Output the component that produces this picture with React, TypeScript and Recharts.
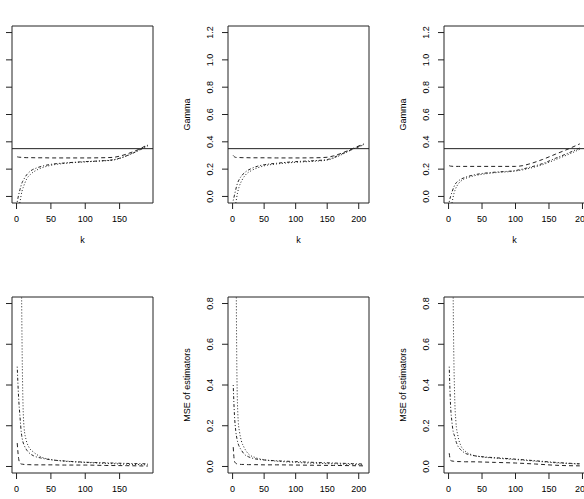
import { LineChart, Line, XAxis, YAxis, ReferenceLine, ReferenceArea } from "recharts";

const FONT = '"Liberation Sans", Arial, Helvetica, sans-serif';
const INK = "#222";

// true value of gamma (horizontal reference line in the top row)
const TRUE_GAMMA = 0.35;

// top row: Gamma estimates against k
const kTop1 = [1, 3, 5, 8, 10, 15, 20, 30, 40, 50, 70, 100, 120, 140, 150, 160, 170, 180, 191];
const dashedTop1 = [0.29, 0.288, 0.287, 0.286, 0.285, 0.284, 0.284, 0.283, 0.283, 0.282, 0.282, 0.282, 0.283, 0.286, 0.295, 0.31, 0.328, 0.35, 0.38];
const dotdashTop1 = [-0.04, 0.01, 0.05, 0.1, 0.12, 0.16, 0.185, 0.21, 0.225, 0.235, 0.245, 0.255, 0.26, 0.268, 0.28, 0.298, 0.318, 0.342, 0.37];
const dottedTop1 = [-0.2, -0.09, -0.04, 0.04, 0.07, 0.13, 0.16, 0.195, 0.215, 0.228, 0.242, 0.253, 0.259, 0.266, 0.278, 0.296, 0.32, 0.345, 0.375];

const kTop2 = [1, 3, 5, 8, 10, 15, 20, 30, 40, 50, 70, 100, 130, 150, 160, 170, 180, 190, 208];
const dashedTop2 = [0.3, 0.29, 0.286, 0.285, 0.285, 0.284, 0.284, 0.283, 0.283, 0.283, 0.282, 0.282, 0.283, 0.287, 0.297, 0.312, 0.33, 0.35, 0.385];
const dotdashTop2 = [-0.03, 0.01, 0.05, 0.1, 0.12, 0.155, 0.178, 0.205, 0.222, 0.232, 0.243, 0.255, 0.262, 0.27, 0.285, 0.305, 0.325, 0.345, 0.378];
const dottedTop2 = [-0.2, -0.1, -0.05, 0.03, 0.065, 0.12, 0.155, 0.19, 0.21, 0.224, 0.238, 0.25, 0.258, 0.266, 0.28, 0.3, 0.322, 0.345, 0.38];

const kTop3 = [1, 3, 5, 8, 10, 15, 20, 30, 40, 50, 70, 100, 110, 120, 140, 160, 180, 196];
const dashedTop3 = [0.225, 0.222, 0.221, 0.22, 0.22, 0.22, 0.22, 0.22, 0.22, 0.22, 0.22, 0.22, 0.225, 0.237, 0.27, 0.31, 0.35, 0.385];
const dotdashTop3 = [-0.04, 0.0, 0.03, 0.07, 0.09, 0.115, 0.13, 0.148, 0.16, 0.168, 0.178, 0.19, 0.2, 0.212, 0.24, 0.28, 0.32, 0.355];
const dottedTop3 = [-0.2, -0.1, -0.05, 0.02, 0.05, 0.095, 0.118, 0.14, 0.153, 0.162, 0.174, 0.186, 0.194, 0.205, 0.232, 0.27, 0.31, 0.345];

// bottom row: MSE of estimators against k
const kBot1 = [1, 3, 5, 7, 9, 11, 14, 18, 25, 35, 50, 70, 100, 130, 160, 191];
const dashedBot1 = [0.115, 0.04, 0.017, 0.012, 0.011, 0.01, 0.009, 0.009, 0.008, 0.008, 0.008, 0.007, 0.007, 0.005, 0.004, 0.002];
const dotdashBot1 = [0.49, 0.34, 0.245, 0.165, 0.125, 0.105, 0.085, 0.068, 0.052, 0.042, 0.033, 0.027, 0.021, 0.018, 0.015, 0.013];
const dottedBot1 = [6, 4, 2.2, 1.0, 0.37, 0.19, 0.13, 0.095, 0.07, 0.048, 0.034, 0.026, 0.02, 0.015, 0.011, 0.008];

const kBot2 = [1, 3, 5, 7, 9, 11, 14, 18, 25, 35, 50, 70, 100, 130, 160, 190, 208];
const dashedBot2 = [0.095, 0.025, 0.016, 0.013, 0.012, 0.011, 0.01, 0.01, 0.009, 0.009, 0.008, 0.008, 0.007, 0.006, 0.005, 0.004, 0.003];
const dotdashBot2 = [0.4, 0.25, 0.175, 0.135, 0.11, 0.095, 0.08, 0.062, 0.048, 0.038, 0.032, 0.028, 0.024, 0.02, 0.017, 0.014, 0.012];
const dottedBot2 = [6, 4, 1.5, 0.42, 0.22, 0.17, 0.125, 0.095, 0.062, 0.045, 0.033, 0.026, 0.02, 0.016, 0.013, 0.01, 0.008];

const kBot3 = [1, 3, 5, 7, 9, 11, 14, 18, 25, 35, 50, 70, 100, 130, 160, 196];
const dashedBot3 = [0.065, 0.03, 0.027, 0.026, 0.025, 0.025, 0.024, 0.024, 0.023, 0.023, 0.022, 0.02, 0.017, 0.012, 0.006, 0.003];
const dotdashBot3 = [0.49, 0.3, 0.22, 0.17, 0.15, 0.125, 0.1, 0.083, 0.065, 0.055, 0.048, 0.043, 0.036, 0.028, 0.02, 0.013];
const dottedBot3 = [6, 4, 2.0, 0.8, 0.36, 0.22, 0.15, 0.105, 0.075, 0.057, 0.047, 0.041, 0.034, 0.026, 0.018, 0.012];

const topYTicks = [0, 0.2, 0.4, 0.6, 0.8, 1.0, 1.2];
const botYTicks = [0, 0.2, 0.4, 0.6, 0.8];
const xTicks150 = [0, 50, 100, 150];
const xTicks200 = [0, 50, 100, 150, 200];

// R style axis range: data range padded by 4% each side
const pad = (lo: number, hi: number): [number, number] => {
  const d = (hi - lo) * 0.04;
  return [lo - d, hi + d];
};

const YTick = (props: any) => {
  const { x, y, payload } = props;
  return (
    <text
      x={x}
      y={y}
      transform={`rotate(-90, ${x}, ${y})`}
      textAnchor="middle"
      dominantBaseline="central"
      fontSize={9}
      fontFamily={FONT}
      fill="#000"
    >
      {Number(payload.value).toFixed(1)}
    </text>
  );
};

const YAXIS_W = 60;
const TOP_M = 10;
const RIGHT_M = 10;
const XAXIS_H = 45;
const PLOT_W = 141;

type PanelProps = {
  boxLeft: number;
  boxTop: number;
  plotH: number;
  k: number[];
  dashed: number[];
  dotdash: number[];
  dotted: number[];
  xDomain: [number, number];
  xTicks: number[];
  yDomain: [number, number];
  yTicks: number[];
  yLabel: string;
  hline?: number;
};

function Panel(p: PanelProps) {
  const data = p.k.map((k, i) => ({
    k,
    dashed: p.dashed[i],
    dotdash: p.dotdash[i],
    dotted: p.dotted[i],
  }));
  const textStyle = { fontSize: 9, fontFamily: FONT, fill: "#000" };

  return (
    <div style={{ position: "absolute", left: p.boxLeft - YAXIS_W, top: p.boxTop - TOP_M }}>
      <LineChart
        width={YAXIS_W + PLOT_W + RIGHT_M}
        height={TOP_M + p.plotH + XAXIS_H}
        data={data}
        margin={{ top: TOP_M, right: RIGHT_M, left: 0, bottom: 0 }}
      >
        <XAxis
          type="number"
          dataKey="k"
          domain={p.xDomain}
          ticks={p.xTicks}
          interval={0}
          allowDataOverflow
          height={XAXIS_H}
          tickSize={6}
          tickMargin={7}
          axisLine={false}
          stroke={INK}
          tick={textStyle}
          label={{ value: "k", position: "insideBottom", offset: 5.4, style: textStyle }}
        />
        <YAxis
          type="number"
          domain={p.yDomain}
          ticks={p.yTicks}
          interval={0}
          allowDataOverflow
          width={YAXIS_W}
          tickSize={6}
          tickMargin={12}
          axisLine={false}
          stroke={INK}
          tick={(tp: any) => <YTick {...tp} />}
          label={{
            value: p.yLabel,
            angle: -90,
            position: "insideLeft",
            offset: 18.4,
            style: { ...textStyle, textAnchor: "middle" },
          }}
        />
        {p.hline !== undefined && <ReferenceLine y={p.hline} stroke={INK} strokeWidth={1} />}
        <Line dataKey="dashed" type="monotone" stroke={INK} strokeWidth={1} strokeDasharray="4 3" dot={false} isAnimationActive={false} />
        <Line dataKey="dotdash" type="monotone" stroke={INK} strokeWidth={1} strokeDasharray="1 2 3 2" dot={false} isAnimationActive={false} />
        <Line dataKey="dotted" type="monotone" stroke={INK} strokeWidth={1} strokeDasharray="1 2" dot={false} isAnimationActive={false} />
        <ReferenceArea
          x1={p.xDomain[0]}
          x2={p.xDomain[1]}
          y1={p.yDomain[0]}
          y2={p.yDomain[1]}
          fill="none"
          stroke={INK}
          strokeWidth={1}
          ifOverflow="visible"
        />
      </LineChart>
    </div>
  );
}

export default function App() {
  const topY = pad(0, 1.2);
  const botY = pad(0, 0.8);
  const lefts = [12, 228, 444];
  return (
    <div
      style={{
        position: "absolute",
        left: 0,
        top: 0,
        width: 584,
        height: 499,
        overflow: "hidden",
        background: "#fff",
      }}
    >
      <Panel boxLeft={lefts[0]} boxTop={26} plotH={177} k={kTop1} dashed={dashedTop1} dotdash={dotdashTop1} dotted={dottedTop1}
        xDomain={pad(1, 191)} xTicks={xTicks150} yDomain={topY} yTicks={topYTicks} yLabel="Gamma" hline={TRUE_GAMMA} />
      <Panel boxLeft={lefts[1]} boxTop={26} plotH={177} k={kTop2} dashed={dashedTop2} dotdash={dotdashTop2} dotted={dottedTop2}
        xDomain={pad(1, 208)} xTicks={xTicks200} yDomain={topY} yTicks={topYTicks} yLabel="Gamma" hline={TRUE_GAMMA} />
      <Panel boxLeft={lefts[2]} boxTop={26} plotH={177} k={kTop3} dashed={dashedTop3} dotdash={dotdashTop3} dotted={dottedTop3}
        xDomain={pad(1, 196)} xTicks={xTicks200} yDomain={topY} yTicks={topYTicks} yLabel="Gamma" hline={TRUE_GAMMA} />
      <Panel boxLeft={lefts[0]} boxTop={297} plotH={176} k={kBot1} dashed={dashedBot1} dotdash={dotdashBot1} dotted={dottedBot1}
        xDomain={pad(1, 191)} xTicks={xTicks150} yDomain={botY} yTicks={botYTicks} yLabel="MSE of estimators" />
      <Panel boxLeft={lefts[1]} boxTop={297} plotH={176} k={kBot2} dashed={dashedBot2} dotdash={dotdashBot2} dotted={dottedBot2}
        xDomain={pad(1, 208)} xTicks={xTicks200} yDomain={botY} yTicks={botYTicks} yLabel="MSE of estimators" />
      <Panel boxLeft={lefts[2]} boxTop={297} plotH={176} k={kBot3} dashed={dashedBot3} dotdash={dotdashBot3} dotted={dottedBot3}
        xDomain={pad(1, 196)} xTicks={xTicks200} yDomain={botY} yTicks={botYTicks} yLabel="MSE of estimators" />
    </div>
  );
}
